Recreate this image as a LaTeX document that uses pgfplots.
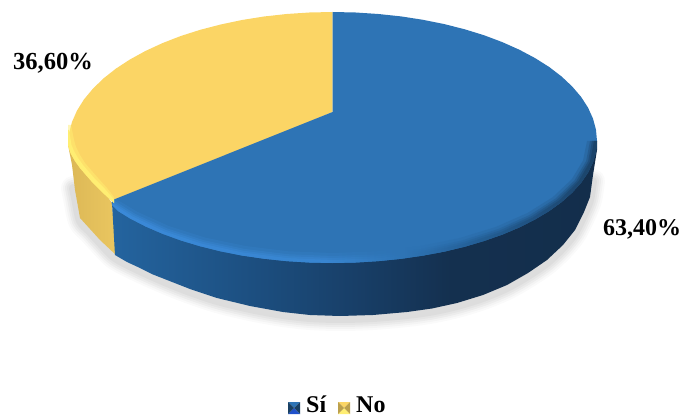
\documentclass[border=0pt]{standalone}
\usepackage{pgfplots}
\usepackage{pgfplotstable}
\pgfplotsset{compat=1.18}
\usepackage{fontspec}
\setmainfont{Liberation Serif}

\definecolor{blueTop}{HTML}{2E74B5}
\definecolor{yellowTop}{HTML}{FBD565}
\definecolor{yellowRim}{HTML}{FFEE72}
\definecolor{sa}{HTML}{24649F}
\definecolor{sb}{HTML}{1C4E7F}
\definecolor{sc}{HTML}{183F68}
\definecolor{sd}{HTML}{14304F}
\definecolor{se}{HTML}{132E4B}
\definecolor{ra}{HTML}{3C8CDC}
\definecolor{rb}{HTML}{3A88D4}
\definecolor{rc}{HTML}{245F96}
\definecolor{rd}{HTML}{1A3F62}
\definecolor{ya}{HTML}{DCB856}
\definecolor{yb}{HTML}{EAC660}

% side wall of the blue slice, lighter on the left
\pgfdeclarehorizontalshading{blueside}{100bp}{
  color(0bp)=(sa); color(25bp)=(sa); color(40bp)=(sb);
  color(50bp)=(sc); color(60bp)=(sd); color(75bp)=(se); color(100bp)=(se)}
% rim of the blue slice: bright on the left, dark on the right
\pgfdeclarehorizontalshading{bluerim}{100bp}{
  color(0bp)=(ra); color(25bp)=(ra); color(47bp)=(rb);
  color(55bp)=(blueTop); color(62bp)=(rc); color(75bp)=(rd); color(100bp)=(rd)}
\pgfdeclarehorizontalshading{yellowside}{100bp}{
  color(0bp)=(ya); color(25bp)=(ya); color(75bp)=(yb); color(100bp)=(yb)}

% lower outline of the disc
\pgfplotstableread{
x y
73 185
75 195
80 218
90 229
100 240
115 255
140 268
167 280
190 289
217 298
250 306
283 312
310 315
340 316
373 315
407 312
432 308.5
457 303
483 295
507 285
528 273
547 260
563 245
575 230
584 212
590 197
593 178
}\loweroutline

\begin{document}
\begin{tikzpicture}
\begin{axis}[
  width=680pt, height=417pt, scale only axis, hide axis,
  xmin=0, xmax=680, ymin=0, ymax=417, y dir=reverse,
  every axis plot/.append style={line join=round, line cap=round},
]
% soft shadow under the disc
\addplot[smooth, draw=black, opacity=0.02, line width=24pt, yshift=-3pt] table {\loweroutline};
\addplot[smooth, draw=black, opacity=0.025, line width=20pt, yshift=-3pt] table {\loweroutline};
\addplot[smooth, draw=black, opacity=0.03, line width=16pt, yshift=-3pt] table {\loweroutline};
\addplot[smooth, draw=black, opacity=0.03, line width=12pt, yshift=-3pt] table {\loweroutline};
\addplot[smooth, draw=black, opacity=0.035, line width=8pt, yshift=-3pt] table {\loweroutline};
% side walls
\addplot[draw=none, shading=yellowside] coordinates {
  (68,140) (69,150) (72,165) (75,190) (80,218) (90,229) (100,240) (116,255) (112,203)};
\addplot[draw=none, shading=blueside] coordinates {
  (112,203) (115,255) (127,262) (140,268) (153,274.5) (167,280) (190,289) (217,298) (250,306) (283,312) (310,315) (340,316)
  (373,315) (407,312) (432,308.5) (457,303) (483,295) (507,285) (528,273) (547,260) (563,245)
  (575,230) (584,212) (590,197) (593,175) (597,150) (597,141)};
% top face, yellow slice (36,60 %)
\addplot[draw=none, fill=yellowTop] coordinates {
  (332.5,12) (309.4,12.5) (286.6,14) (264,16.5) (242,20) (220.7,24.5) (200.25,29.8) (180.8,36)
  (162.5,43.1) (145.5,50.95) (129.9,59.5) (115.8,68.7) (103.4,78.5) (92.8,88.8) (83.9,99.5)
  (77,110.6) (72,121.9) (69,133.4) (68,145) (69,149) (71,154) (75,161) (80,168) (86,175) (93,183)
  (102,192) (114,203) (332.5,112)};
% top face, blue slice (63,40 %)
\addplot[draw=none, fill=blueTop] coordinates {
  (332.5,12) (355.6,12.5) (378.4,14) (401,16.4) (423,19.8) (444.3,24.1) (464.75,29.3) (484.2,35.3)
  (502.5,42.2) (519.5,49.8) (535.1,58.1) (549.2,67) (561.6,76.5) (572.2,86.5) (581.1,96.9)
  (588,107.6) (593,118.6) (596,129.8) (597,141)
  (596,151.6) (593,162.2) (588,172.6) (581.1,182.7) (572.2,192.6) (561.6,202) (549.2,211)
  (535.1,219.4) (519.5,227.3) (502.5,234.5) (484.2,240.9) (464.75,246.7) (444.3,251.6) (423,255.6)
  (401,258.8) (378.4,261.1) (355.6,262.5) (332.5,263)
  (309.4,262.5) (286.6,261.1) (264,258.7) (242,255.5) (220.7,251.3) (200.25,246.25) (180.8,240.4)
  (162.5,233.75) (145.5,226.4) (129.9,218.35) (118,211) (112,205) (111.5,202) (114,199.5) (332.5,112)};
% bevel along the front rim: bands of growing strength towards the edge
\addplot[draw=none, shading=bluerim, opacity=0.2] coordinates {
  (112,205) (118,211) (129.9,218.35) (145.5,226.4) (162.5,233.75) (180.8,240.4) (200.25,246.25)
  (220.7,251.3) (242,255.5) (264,258.7) (286.6,261.1) (309.4,262.5) (332.5,263) (355.6,262.5)
  (378.4,261.1) (401,258.8) (423,255.6) (444.3,251.6) (464.75,246.7) (484.2,240.9) (502.5,234.5)
  (519.5,227.3) (535.1,219.4) (549.2,211) (561.6,202) (572.2,192.6) (581.1,182.7) (588,172.6)
  (593,162.2) (596,151.6) (597,141)
  (587,141) (583.1,160.4) (571.7,179.3) (552.9,197) (527.4,213) (496.1,226.8) (459.75,238)
  (419.5,246.2) (376.7,251.3) (332.5,253) (288.3,251.3) (245.5,246) (205.25,237.6) (168.9,226.1)
  (137.5,211.9) (115,198.5)};
\addplot[draw=none, shading=bluerim, opacity=0.3] coordinates {
  (112,205) (118,211) (129.9,218.35) (145.5,226.4) (162.5,233.75) (180.8,240.4) (200.25,246.25)
  (220.7,251.3) (242,255.5) (264,258.7) (286.6,261.1) (309.4,262.5) (332.5,263) (355.6,262.5)
  (378.4,261.1) (401,258.8) (423,255.6) (444.3,251.6) (464.75,246.7) (484.2,240.9) (502.5,234.5)
  (519.5,227.3) (535.1,219.4) (549.2,211) (561.6,202) (572.2,192.6) (581.1,182.7) (588,172.6)
  (593,162.2) (596,151.6) (597,141)
  (590,141) (586.1,161) (574.5,180.3) (555.5,198.5) (529.7,214.9) (498,229.1) (461.25,240.6)
  (420.6,249.1) (377.2,254.3) (332.5,256) (287.8,254.2) (244.4,248.9) (203.75,240.2) (167,228.4)
  (135.2,213.9) (114,200.5)};
\addplot[draw=none, shading=bluerim, opacity=0.45] coordinates {
  (112,205) (118,211) (129.9,218.35) (145.5,226.4) (162.5,233.75) (180.8,240.4) (200.25,246.25)
  (220.7,251.3) (242,255.5) (264,258.7) (286.6,261.1) (309.4,262.5) (332.5,263) (355.6,262.5)
  (378.4,261.1) (401,258.8) (423,255.6) (444.3,251.6) (464.75,246.7) (484.2,240.9) (502.5,234.5)
  (519.5,227.3) (535.1,219.4) (549.2,211) (561.6,202) (572.2,192.6) (581.1,182.7) (588,172.6)
  (593,162.2) (596,151.6) (597,141)
  (592,141) (588.1,161.3) (576.4,181) (557.2,199.5) (531.3,216.2) (499.3,230.6) (462.25,242.3)
  (421.3,251) (377.5,256.2) (332.5,258) (287.5,256.2) (243.7,250.8) (202.75,241.9) (165.7,229.9)
  (133.7,215.1) (113.7,202.5)};
\addplot[draw=none, shading=bluerim, opacity=0.7] coordinates {
  (112,205) (118,211) (129.9,218.35) (145.5,226.4) (162.5,233.75) (180.8,240.4) (200.25,246.25)
  (220.7,251.3) (242,255.5) (264,258.7) (286.6,261.1) (309.4,262.5) (332.5,263) (355.6,262.5)
  (378.4,261.1) (401,258.8) (423,255.6) (444.3,251.6) (464.75,246.7) (484.2,240.9) (502.5,234.5)
  (519.5,227.3) (535.1,219.4) (549.2,211) (561.6,202) (572.2,192.6) (581.1,182.7) (588,172.6)
  (593,162.2) (596,151.6) (597,141)
  (594,141) (590,161.7) (578.2,181.7) (559,200.5) (532.8,217.5) (500.6,232.2) (463.25,244)
  (421.9,252.8) (377.9,258.2) (332.5,260) (287.1,258.1) (243.1,252.6) (201.75,243.7) (164.4,231.5)
  (132.2,216.4) (113.5,204.3)};
% highlight on the yellow rim
\addplot[draw=none, fill=yellowRim, opacity=0.5] coordinates {
  (68,125) (68,145) (69,149) (71,154) (75,161) (80,168) (86,175) (93,183) (102,192) (114,203)
  (114,197) (107,188) (98,178) (91,170) (85,163) (80,155) (76,147) (74,140) (71,125)};
\addplot[draw=none, fill=yellowRim] coordinates {
  (68,130) (68,145) (69,149) (71,154) (75,161) (80,168) (86,175) (93,183) (102,192) (114,203)
  (114,199.5) (105,189) (96,180) (89,172) (83,165) (78,158) (74,151) (71.5,145) (69,130)};

% legend keys, each a small bevelled square
\addplot[fill=blueTop, draw=none]   coordinates {(288,402) (300,402) (294,408)};
\addplot[fill=blue!30!blueTop, draw=none] coordinates {(288,414) (300,414) (294,408)};
\addplot[fill=black!45!blueTop, draw=none] coordinates {(288,402) (288,414) (294,408)};
\addplot[fill=black!45!blueTop, draw=none] coordinates {(300,402) (300,414) (294,408)};
\addplot[fill=yellowTop, draw=none] coordinates {(338,402) (350,402) (344,408)};
\addplot[fill=yellowRim, draw=none] coordinates {(338,414) (350,414) (344,408)};
\addplot[fill=black!25!yellowTop, draw=none] coordinates {(338,402) (338,414) (344,408)};
\addplot[fill=black!25!yellowTop, draw=none] coordinates {(350,402) (350,414) (344,408)};

% value labels and legend text
\node[anchor=base west, inner sep=0pt, font=\fontsize{24.5}{26}\selectfont\bfseries] at (axis cs:13,70) {36,60\%};
\node[anchor=base west, inner sep=0pt, font=\fontsize{24}{26}\selectfont\bfseries] at (axis cs:603,235) {63,40\%};
\node[anchor=base west, inner sep=0pt, font=\fontsize{24}{26}\selectfont\bfseries] at (axis cs:306,412) {Sí};
\node[anchor=base west, inner sep=0pt, font=\fontsize{24}{26}\selectfont\bfseries] at (axis cs:356,412) {No};
\end{axis}
\pgfresetboundingbox
\path[use as bounding box] (current axis.south west) rectangle (current axis.north east);
\end{tikzpicture}
\end{document}
